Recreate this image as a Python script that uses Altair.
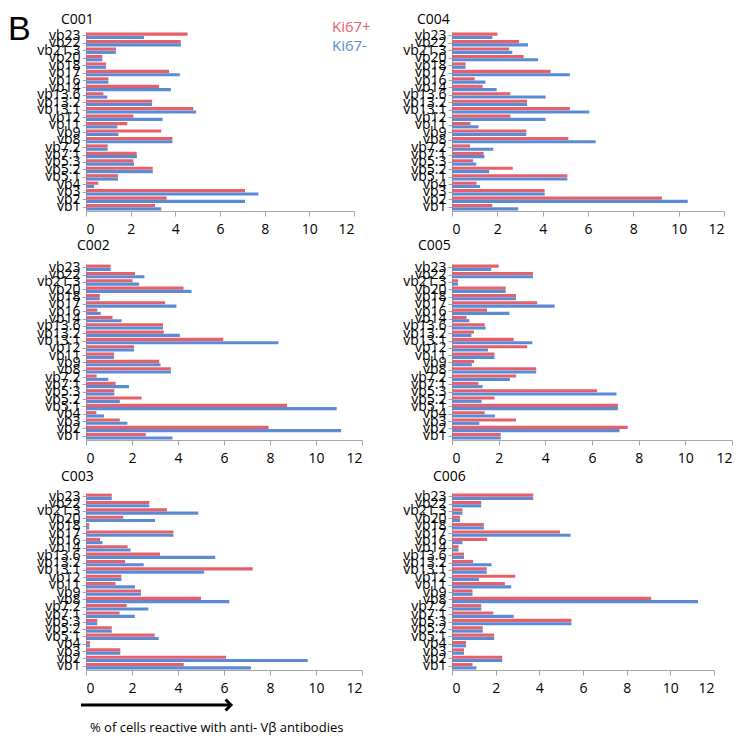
import altair as alt
import pandas as pd

# categories listed top -> bottom as drawn
categories = ["vb23", "vb22", "vb21.3", "vb20", "vb18", "vb17", "vb16", "vb14",
              "vb13.6", "vb13.2", "vb13.1", "vb12", "vb11", "vb9", "vb8", "vb7.2",
              "vb7.1", "vb5.3", "vb5.2", "vb5.1", "vb4", "vb3", "vb2", "vb1"]
series_names = ["Ki67+", "Ki67-"]
series_colors = ["#E5606A", "#5B8BD5"]
x_ticks = [0, 2, 4, 6, 8, 10, 12]

c001_pos = [4.55, 4.24, 1.34, 0.73, 0.9, 3.72, 1.0, 3.27, 0.78, 2.96, 4.8, 2.12, 1.85, 3.37, 3.87, 0.97, 2.27, 2.12, 2.99, 1.43, 0.55, 7.12, 3.61, 3.09]
c001_neg = [2.6, 4.25, 1.34, 0.73, 0.9, 4.2, 1.0, 3.8, 0.95, 2.96, 4.93, 3.43, 1.4, 1.45, 3.87, 0.97, 2.28, 2.15, 2.99, 1.43, 0.36, 7.72, 7.12, 3.37]

c004_pos = [2.0, 2.96, 2.52, 3.16, 0.6, 4.35, 1.0, 1.35, 2.57, 3.31, 5.2, 2.57, 0.81, 3.28, 5.13, 0.8, 1.4, 0.93, 2.68, 5.09, 1.08, 4.09, 9.26, 1.78]
c004_neg = [1.78, 3.35, 2.66, 3.8, 0.6, 5.2, 1.47, 1.97, 4.13, 3.31, 6.06, 4.13, 1.17, 3.28, 6.34, 1.82, 1.43, 1.07, 1.64, 5.09, 1.24, 4.09, 10.4, 2.92]

c002_pos = [1.07, 2.13, 2.02, 4.24, 0.6, 3.44, 0.49, 1.15, 3.35, 3.38, 5.97, 2.09, 1.22, 3.18, 3.69, 0.46, 1.29, 1.23, 2.42, 8.74, 0.45, 1.47, 7.94, 2.6]
c002_neg = [1.07, 2.54, 2.31, 4.59, 0.6, 3.93, 0.64, 1.55, 3.35, 4.08, 8.37, 2.09, 1.22, 3.24, 3.69, 0.97, 1.87, 1.23, 1.47, 10.9, 0.78, 1.8, 11.09, 3.76]

c005_pos = [2.0, 3.47, 0.26, 2.3, 2.74, 3.65, 1.5, 0.62, 1.4, 0.94, 2.64, 3.22, 1.82, 0.95, 3.61, 2.75, 1.13, 6.22, 1.82, 7.11, 1.4, 2.74, 7.53, 2.09]
c005_neg = [1.68, 3.47, 0.26, 2.3, 2.74, 4.4, 2.46, 0.74, 1.44, 0.83, 3.44, 1.54, 1.82, 0.85, 3.61, 2.48, 1.31, 7.05, 1.27, 7.11, 1.84, 1.17, 7.18, 2.09]

c003_pos = [1.12, 2.75, 3.52, 1.62, 0.14, 3.8, 0.61, 1.81, 3.22, 1.7, 7.25, 1.54, 1.28, 2.39, 5.0, 1.77, 1.46, 0.49, 1.12, 2.99, 0.17, 1.49, 6.09, 4.25]
c003_neg = [1.12, 2.75, 4.88, 3.0, 0.14, 3.8, 0.72, 1.94, 5.62, 2.51, 5.14, 1.54, 2.13, 2.39, 6.23, 2.71, 2.12, 0.49, 1.12, 3.16, 0.17, 1.49, 9.64, 7.17]

c006_pos = [3.72, 1.34, 0.48, 0.37, 1.46, 4.95, 1.61, 0.3, 0.55, 0.97, 1.59, 2.9, 2.42, 0.94, 9.12, 1.34, 1.89, 5.47, 1.41, 1.93, 0.64, 0.55, 2.3, 0.94]
c006_neg = [3.72, 1.34, 0.48, 0.37, 1.46, 5.43, 0.48, 0.3, 0.55, 1.81, 1.59, 1.23, 2.71, 0.94, 11.27, 1.34, 2.83, 5.47, 1.41, 1.93, 0.64, 0.55, 2.3, 1.12]

FONT = "Open Sans"
one = pd.DataFrame({"a": [0]})


def label(text, x, y, size=14, color="black", font=FONT, baseline="alphabetic"):
    return alt.Chart(one).mark_text(text=text, fontSize=size, font=font, align="left",
                                    baseline=baseline, color=color).encode(
        x=alt.value(x), y=alt.value(y))


def panel(title, pos, neg, w, h, tdx, tdy, extras=()):
    df = pd.DataFrame({
        "cat": categories * 2,
        "series": [series_names[0]] * len(categories) + [series_names[1]] * len(categories),
        "value": pos + neg,
    })
    bars = alt.Chart(df).mark_bar().encode(
        y=alt.Y("cat:N", sort=categories,
                scale=alt.Scale(paddingInner=0.14, paddingOuter=0.08),
                axis=alt.Axis(title=None, labelFontSize=14, tickSize=4, labelPadding=2,
                              labelFont=FONT)),
        yOffset=alt.YOffset("series:N", sort=series_names, scale=alt.Scale(paddingInner=0.05)),
        x=alt.X("value:Q", scale=alt.Scale(domain=[0, 12], nice=False),
                axis=alt.Axis(values=x_ticks, title=None, labelFontSize=14, tickSize=5,
                              labelPadding=6, labelFont=FONT)),
        color=alt.Color("series:N", scale=alt.Scale(domain=series_names, range=series_colors),
                        legend=None),
    )
    return alt.layer(bars, label(title, tdx, tdy), *extras).properties(width=w, height=h)


c001 = panel("C001", c001_pos, c001_neg, 268, 179, -25, -8, extras=(
    label("B", -78, -19, size=34, font="Liberation Sans", baseline="top"),
    label(series_names[0], 246, -5, size=15, color=series_colors[0], baseline="middle"),
    label(series_names[1], 246, 14, size=15, color=series_colors[1], baseline="middle"),
))
c004 = panel("C004", c004_pos, c004_neg, 272, 179, -35, -8)
c002 = panel("C002", c002_pos, c002_neg, 276, 176, -9, -14)
c005 = panel("C005", c005_pos, c005_neg, 280, 176, -34, -14)

arrow = alt.Chart(one).mark_rule(strokeWidth=3, color="black").encode(
    x=alt.value(-5), x2=alt.value(143), y=alt.value(212))
head = alt.Chart(one).mark_point(shape="M -1 -1 L 0 0 L -1 1", filled=False, strokeWidth=3,
                                 size=120, color="black", opacity=1).encode(
    x=alt.value(145), y=alt.value(212))
c003 = panel("C003", c003_pos, c003_neg, 276, 177, -25, -12, extras=(
    arrow, head,
    label("% of cells reactive with anti- V\u03b2 antibodies", 4, 235, size=13,
          baseline="middle"),
))
c006 = panel("C006", c006_pos, c006_neg, 262, 177, -19, -12)

chart = alt.concat(c001, c004, c002, c005, c003, c006, columns=2,
                   spacing={"row": 53, "column": 90}, bounds="flush", align="each").properties(
    padding={"left": 0, "top": 5, "right": 0, "bottom": 0}
).configure_view(stroke=None).configure_axis(
    domainColor="#A6A6A6", tickColor="#A6A6A6", labelColor="black", grid=False
)

chart.save("out.html", embed_options={"renderer": "svg", "actions": False})
